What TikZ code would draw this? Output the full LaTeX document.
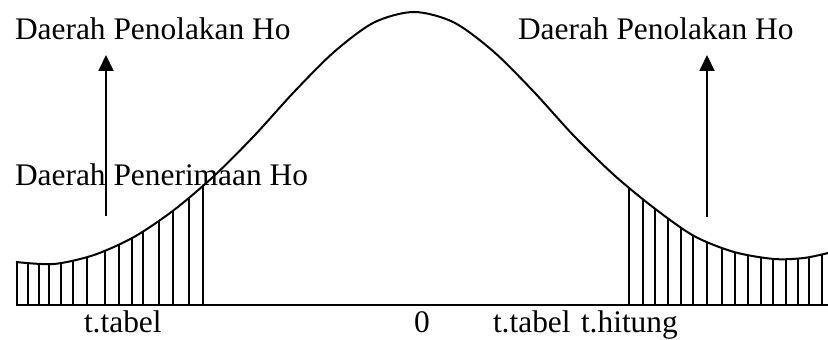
\documentclass[tikz,border=0pt]{standalone}
\usepackage{fontspec}
\setmainfont{Liberation Serif}
\usetikzlibrary{arrows.meta}

\begin{document}
\begin{tikzpicture}[x=0.5pt,y=-0.5pt,line width=1pt,
    teks/.style={inner sep=0pt,anchor=base west,font=\fontsize{15.7}{18}\selectfont},
    arsir/.style={line width=1pt},
    panah/.style={line width=1pt,-{Triangle[length=8pt,width=7.5pt]}}]
    \useasboundingbox (0,0) rectangle (828,340);

    % Arsiran daerah penolakan (dipotong oleh kurva)
    \begin{scope}
        \clip plot[smooth] coordinates {(16,262) (54,264) (94,255) (134,237) (174,210) (214,176) (254,136) (294,92) (334,52) (374,22.5) (414,12) (454,22.5) (494,52) (534,92) (574,136) (614,175) (654,208) (694,236) (734,252) (774,259) (804,258) (828,253)}
            -- (828,305) -- (16,305) -- cycle;
        \foreach \x in {17,28,39,49,61,73,87,105,119,132,143,159,173,189,203}
            \draw[arsir] (\x,305) -- (\x,0);
        \foreach \x in {629,643,655,668,681,693,707,722,735,748,761,773,786,798,809,822}
            \draw[arsir] (\x,305) -- (\x,0);
    \end{scope}

    % Kurva distribusi t
    \draw plot[smooth] coordinates {(16,262) (54,264) (94,255) (134,237) (174,210) (214,176) (254,136) (294,92) (334,52) (374,22.5) (414,12) (454,22.5) (494,52) (534,92) (574,136) (614,175) (654,208) (694,236) (734,252) (774,259) (804,258) (828,253)};

    % Sumbu
    \draw (16,305) -- (828,305);

    % Label
    \node[teks] (tolakKiri) at (14,40) {Daerah Penolakan Ho};
    \node[teks] (tolakKanan) at (517,40) {Daerah Penolakan Ho};
    \node[teks] (terima) at (14,186) {Daerah Penerimaan Ho};

    \node[teks] (tabelKiri) at (83,333) {t.tabel};
    \node[teks] (nol) at (413,333) {0};
    \node[teks] (tabelKanan) at (492,333) {t.tabel};
    \node[teks] (hitung) at (580,333) {t.hitung};

    % Panah
    \coordinate (kakiKiri) at (106,216);
    \coordinate (ujungKiri) at (106,55);
    \coordinate (kakiKanan) at (707,217);
    \coordinate (ujungKanan) at (707,55);
    \draw[panah] (kakiKiri) -- (ujungKiri);
    \draw[panah] (kakiKanan) -- (ujungKanan);

\end{tikzpicture}
\end{document}
